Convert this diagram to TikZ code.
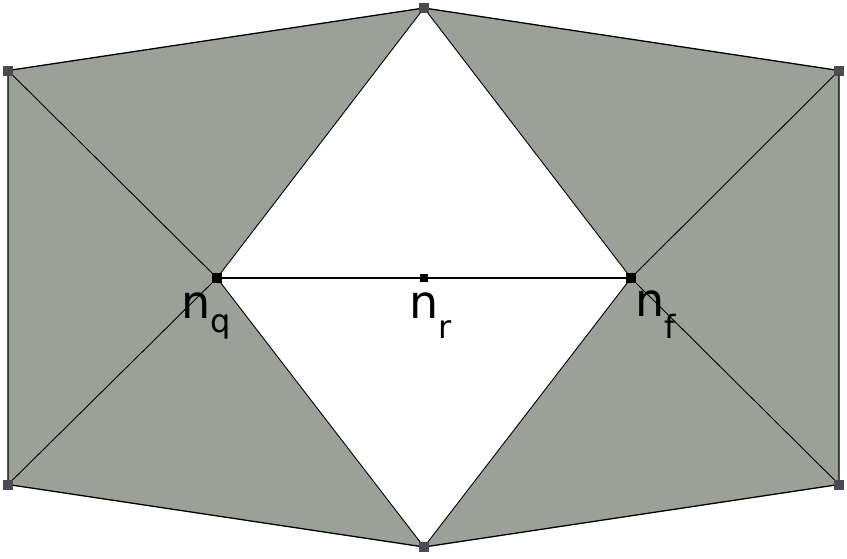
\documentclass[tikz,border=0pt]{standalone}
\usepackage{fontspec}
\setmainfont{DejaVu Sans}
\definecolor{meshgray}{RGB}{155,161,153}
\definecolor{markgray}{RGB}{77,74,82}
\tikzset{
  edge/.style={draw=black, line width=0.9pt},
  outedge/.style={draw=black, line width=1.3pt},
  midedge/.style={draw=black, line width=2pt},
  cornermark/.style={rectangle, fill=markgray, inner sep=0pt, minimum size=10pt},
  nodemark/.style={rectangle, fill=black, inner sep=0pt, minimum size=10pt},
  lbl/.style={inner sep=0pt, anchor=base west, font=\fontsize{46}{46}\selectfont}
}
\newcommand{\subtx}[2]{\raisebox{-#1pt}{\fontsize{32}{32}\selectfont #2}}
\begin{document}
\begin{tikzpicture}[x=1pt,y=-1pt]
\useasboundingbox (0,0) rectangle (847,558);
\coordinate (TL) at (8,70.5);
\coordinate (T) at (424,8);
\coordinate (TR) at (839,70.5);
\coordinate (BL) at (8,484.5);
\coordinate (B) at (424,547);
\coordinate (BR) at (839,484.5);
\coordinate (Q) at (217,278);
\coordinate (R) at (424,278);
\coordinate (F) at (631,278);
% gray triangles
\fill[meshgray] (TL) -- (T) -- (Q) -- cycle;
\fill[meshgray] (TL) -- (Q) -- (BL) -- cycle;
\fill[meshgray] (BL) -- (Q) -- (B) -- cycle;
\fill[meshgray] (TR) -- (T) -- (F) -- cycle;
\fill[meshgray] (TR) -- (F) -- (BR) -- cycle;
\fill[meshgray] (BR) -- (F) -- (B) -- cycle;
% outline
\draw[outedge] (TL) -- (T) -- (TR) -- (BR) -- (B) -- (BL) -- cycle;
% diagonals
\draw[edge] (TL) -- (Q);
\draw[edge] (BL) -- (Q);
\draw[edge] (TR) -- (F);
\draw[edge] (BR) -- (F);
% diamond
\draw[edge] (T) -- (Q) -- (B) -- (F) -- cycle;
% middle edge
\draw[midedge] (Q) -- (F);
% markers
\node[cornermark] (mTL) at (TL) {};
\node[cornermark] (mT) at (T) {};
\node[cornermark] (mTR) at (TR) {};
\node[cornermark] (mBL) at (BL) {};
\node[cornermark] (mB) at (B) {};
\node[cornermark] (mBR) at (BR) {};
\node[nodemark] (mQ) at (Q) {};
\node[nodemark, minimum size=8pt] (mR) at (R) {};
\node[nodemark] (mF) at (F) {};
% labels
\node[lbl] (lq) at (181,318) {n\subtx{14}{q}};
\node[lbl] (lr) at (409,318) {n\subtx{20}{r}};
\node[lbl] (lf) at (635,316) {n\subtx{22}{f}};
\end{tikzpicture}
\end{document}
